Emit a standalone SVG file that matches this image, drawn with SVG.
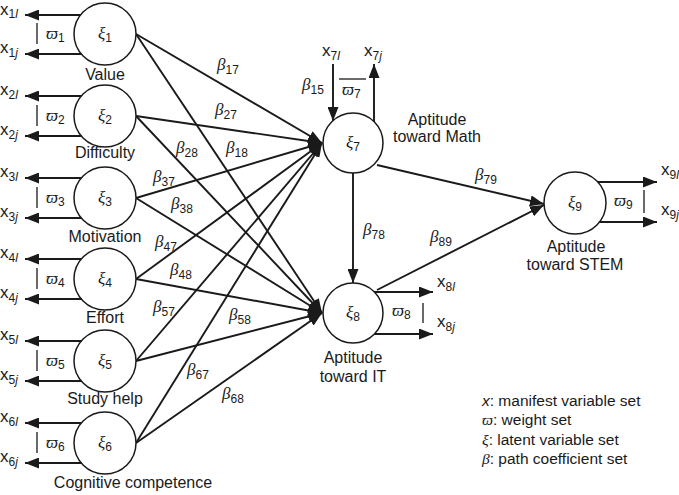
<svg xmlns="http://www.w3.org/2000/svg" width="679" height="495" viewBox="0 0 679 495">
<defs>
<marker id="ah" viewBox="0 0 14 11" refX="14" refY="5.5" markerWidth="14" markerHeight="11" markerUnits="userSpaceOnUse" orient="auto"><path d="M0,0 L14,5.5 L0,11 z" fill="#1a1a1a"/></marker>
<style>
.ln{stroke:#1a1a1a;stroke-width:1.9;fill:none}
.tk{stroke:#1a1a1a;stroke-width:1.3;fill:none}
.arr{marker-end:url(#ah)}
.nd{fill:#fff;stroke:#1a1a1a;stroke-width:1.5}
text{fill:#1a1a1a}
.lb{font-family:"Liberation Sans",Arial,sans-serif;font-size:16px}
.xl{font-family:"Liberation Sans",Arial,sans-serif;font-size:17px}
.lg{font-family:"Liberation Sans",Arial,sans-serif;font-size:15.5px}
.gk{font-family:"Liberation Serif","DejaVu Serif",serif;font-style:italic;font-size:17px}
.sub{font-family:"Liberation Sans",Arial,sans-serif;font-size:12px;font-style:normal}
.it{font-style:italic}
</style>
</defs>
<g id="connectors">
<line class="ln arr" x1="100" y1="15" x2="25" y2="15"/><line class="ln arr" x1="100" y1="54" x2="25" y2="54"/><line class="tk" x1="37" y1="23" x2="37" y2="44"/>
<line class="ln arr" x1="100" y1="96" x2="25" y2="96"/><line class="ln arr" x1="100" y1="136" x2="25" y2="136"/><line class="tk" x1="37" y1="105" x2="37" y2="126"/>
<line class="ln arr" x1="100" y1="178" x2="25" y2="178"/><line class="ln arr" x1="100" y1="218" x2="25" y2="218"/><line class="tk" x1="37" y1="187" x2="37" y2="208"/>
<line class="ln arr" x1="100" y1="259" x2="25" y2="259"/><line class="ln arr" x1="100" y1="299" x2="25" y2="299"/><line class="tk" x1="37" y1="268" x2="37" y2="289"/>
<line class="ln arr" x1="100" y1="341" x2="25" y2="341"/><line class="ln arr" x1="100" y1="381" x2="25" y2="381"/><line class="tk" x1="37" y1="350" x2="37" y2="371"/>
<line class="ln arr" x1="100" y1="423" x2="25" y2="423"/><line class="ln arr" x1="100" y1="463" x2="25" y2="463"/><line class="tk" x1="37" y1="432" x2="37" y2="453"/>
<line class="ln arr" x1="136" y1="34" x2="322" y2="143"/>
<line class="ln arr" x1="136" y1="116" x2="322" y2="143"/>
<line class="ln arr" x1="136" y1="198" x2="322" y2="143"/>
<line class="ln arr" x1="136" y1="279" x2="322" y2="143"/>
<line class="ln arr" x1="136" y1="361" x2="322" y2="143"/>
<line class="ln arr" x1="136" y1="443" x2="322" y2="143"/>
<line class="ln arr" x1="136" y1="34" x2="322" y2="313"/>
<line class="ln arr" x1="136" y1="116" x2="322" y2="313"/>
<line class="ln arr" x1="136" y1="198" x2="322" y2="313"/>
<line class="ln arr" x1="136" y1="279" x2="322" y2="313"/>
<line class="ln arr" x1="136" y1="361" x2="322" y2="313"/>
<line class="ln arr" x1="136" y1="443" x2="322" y2="313"/>
<line class="ln arr" x1="333" y1="64" x2="333" y2="121"/>
<line class="ln arr" x1="374" y1="125" x2="374" y2="64"/>
<line class="tk" x1="339" y1="79" x2="366" y2="79"/>
<line class="ln arr" x1="353" y1="165" x2="353" y2="283"/>
<line class="ln arr" x1="377" y1="165" x2="544" y2="204"/>
<line class="ln arr" x1="377" y1="290" x2="544" y2="205"/>
<line class="ln arr" x1="370" y1="292" x2="433" y2="292"/>
<line class="ln arr" x1="370" y1="334" x2="433" y2="334"/>
<line class="tk" x1="423" y1="303" x2="423" y2="323"/>
<line class="ln arr" x1="590" y1="182" x2="657" y2="182"/>
<line class="ln arr" x1="590" y1="222" x2="657" y2="222"/>
<line class="tk" x1="644" y1="190" x2="644" y2="213"/>
<g class="gk">
<text x="217" y="70">β<tspan class="sub" dy="4">17</tspan></text>
<text x="215" y="115">β<tspan class="sub" dy="4">27</tspan></text>
<text x="176" y="153">β<tspan class="sub" dy="4">28</tspan></text>
<text x="226" y="153">β<tspan class="sub" dy="4">18</tspan></text>
<text x="153" y="182">β<tspan class="sub" dy="4">37</tspan></text>
<text x="171" y="209">β<tspan class="sub" dy="4">38</tspan></text>
<text x="155" y="247">β<tspan class="sub" dy="4">47</tspan></text>
<text x="170" y="275">β<tspan class="sub" dy="4">48</tspan></text>
<text x="153" y="312">β<tspan class="sub" dy="4">57</tspan></text>
<text x="229" y="320">β<tspan class="sub" dy="4">58</tspan></text>
<text x="187" y="375">β<tspan class="sub" dy="4">67</tspan></text>
<text x="222" y="399">β<tspan class="sub" dy="4">68</tspan></text>
<text x="302" y="90">β<tspan class="sub" dy="4">15</tspan></text>
<text x="363" y="235">β<tspan class="sub" dy="4">78</tspan></text>
<text x="430" y="242">β<tspan class="sub" dy="4">89</tspan></text>
<text x="475" y="180">β<tspan class="sub" dy="4">79</tspan></text>
</g>
</g>
<g id="n1">
<circle class="nd" cx="105" cy="34" r="31"/>
<text class="gk" x="105" y="39" text-anchor="middle">ξ<tspan class="sub" dy="3">1</tspan></text>
<text class="gk" x="46" y="39">ϖ<tspan class="sub" dy="3">1</tspan></text>
<text class="xl" x="0" y="15">x<tspan class="sub" dy="3">1<tspan class="it">l</tspan></tspan></text>
<text class="xl" x="0" y="53">x<tspan class="sub" dy="4">1<tspan class="it">j</tspan></tspan></text>
<text class="lb" x="105" y="80" text-anchor="middle">Value</text>
</g>
<g id="n2">
<circle class="nd" cx="105" cy="116" r="31"/>
<text class="gk" x="105" y="121" text-anchor="middle">ξ<tspan class="sub" dy="3">2</tspan></text>
<text class="gk" x="46" y="121">ϖ<tspan class="sub" dy="3">2</tspan></text>
<text class="xl" x="0" y="95">x<tspan class="sub" dy="4">2<tspan class="it">l</tspan></tspan></text>
<text class="xl" x="0" y="135">x<tspan class="sub" dy="4">2<tspan class="it">j</tspan></tspan></text>
<text class="lb" x="105" y="158" text-anchor="middle">Difficulty</text>
</g>
<g id="n3">
<circle class="nd" cx="105" cy="198" r="31"/>
<text class="gk" x="105" y="203" text-anchor="middle">ξ<tspan class="sub" dy="3">3</tspan></text>
<text class="gk" x="46" y="203">ϖ<tspan class="sub" dy="3">3</tspan></text>
<text class="xl" x="0" y="177">x<tspan class="sub" dy="4">3<tspan class="it">l</tspan></tspan></text>
<text class="xl" x="0" y="217">x<tspan class="sub" dy="4">3<tspan class="it">j</tspan></tspan></text>
<text class="lb" x="105" y="242" text-anchor="middle">Motivation</text>
</g>
<g id="n4">
<circle class="nd" cx="105" cy="279" r="31"/>
<text class="gk" x="105" y="284" text-anchor="middle">ξ<tspan class="sub" dy="3">4</tspan></text>
<text class="gk" x="46" y="284">ϖ<tspan class="sub" dy="3">4</tspan></text>
<text class="xl" x="0" y="258">x<tspan class="sub" dy="4">4<tspan class="it">l</tspan></tspan></text>
<text class="xl" x="0" y="298">x<tspan class="sub" dy="4">4<tspan class="it">j</tspan></tspan></text>
<text class="lb" x="105" y="323" text-anchor="middle">Effort</text>
</g>
<g id="n5">
<circle class="nd" cx="105" cy="361" r="31"/>
<text class="gk" x="105" y="366" text-anchor="middle">ξ<tspan class="sub" dy="3">5</tspan></text>
<text class="gk" x="46" y="366">ϖ<tspan class="sub" dy="3">5</tspan></text>
<text class="xl" x="0" y="340">x<tspan class="sub" dy="4">5<tspan class="it">l</tspan></tspan></text>
<text class="xl" x="0" y="380">x<tspan class="sub" dy="4">5<tspan class="it">j</tspan></tspan></text>
<text class="lb" x="105" y="404" text-anchor="middle">Study help</text>
</g>
<g id="n6">
<circle class="nd" cx="105" cy="443" r="31"/>
<text class="gk" x="105" y="448" text-anchor="middle">ξ<tspan class="sub" dy="3">6</tspan></text>
<text class="gk" x="46" y="448">ϖ<tspan class="sub" dy="3">6</tspan></text>
<text class="xl" x="0" y="422">x<tspan class="sub" dy="4">6<tspan class="it">l</tspan></tspan></text>
<text class="xl" x="0" y="462">x<tspan class="sub" dy="4">6<tspan class="it">j</tspan></tspan></text>
<text class="lb" x="133" y="488" text-anchor="middle">Cognitive competence</text>
</g>
<g id="n7">
<circle class="nd" cx="353" cy="143" r="30"/>
<text class="gk" x="353" y="148" text-anchor="middle">ξ<tspan class="sub" dy="3">7</tspan></text>
<text class="gk" x="342" y="95">ϖ<tspan class="sub" dy="3">7</tspan></text>
<text class="xl" x="322" y="56">x<tspan class="sub" dy="4">7<tspan class="it">l</tspan></tspan></text>
<text class="xl" x="364" y="56">x<tspan class="sub" dy="4">7<tspan class="it">j</tspan></tspan></text>
<text class="lb" x="437" y="125" text-anchor="middle">Aptitude</text>
<text class="lb" x="437" y="142" text-anchor="middle">toward Math</text>
</g>
<g id="n8">
<circle class="nd" cx="353" cy="313" r="30"/>
<text class="gk" x="353" y="318" text-anchor="middle">ξ<tspan class="sub" dy="3">8</tspan></text>
<text class="gk" x="392" y="316">ϖ<tspan class="sub" dy="3">8</tspan></text>
<text class="xl" x="437" y="287">x<tspan class="sub" dy="4">8<tspan class="it">l</tspan></tspan></text>
<text class="xl" x="437" y="327">x<tspan class="sub" dy="4">8<tspan class="it">j</tspan></tspan></text>
<text class="lb" x="353" y="363" text-anchor="middle">Aptitude</text>
<text class="lb" x="353" y="382" text-anchor="middle">toward IT</text>
</g>
<g id="n9">
<circle class="nd" cx="575" cy="203" r="31"/>
<text class="gk" x="575" y="208" text-anchor="middle">ξ<tspan class="sub" dy="3">9</tspan></text>
<text class="gk" x="614" y="206">ϖ<tspan class="sub" dy="3">9</tspan></text>
<text class="xl" x="661" y="175">x<tspan class="sub" dy="4">9<tspan class="it">l</tspan></tspan></text>
<text class="xl" x="661" y="215">x<tspan class="sub" dy="4">9<tspan class="it">j</tspan></tspan></text>
<text class="lb" x="576" y="252" text-anchor="middle">Aptitude</text>
<text class="lb" x="575" y="270" text-anchor="middle">toward STEM</text>
</g>
<g id="legend" class="lg">
<text x="482" y="406"><tspan class="it">x</tspan>: manifest variable set</text>
<text x="482" y="425"><tspan font-family="Liberation Serif,DejaVu Serif,serif" font-style="italic">ϖ</tspan>: weight set</text>
<text x="482" y="445"><tspan font-family="Liberation Serif,DejaVu Serif,serif" font-style="italic">ξ</tspan>: latent variable set</text>
<text x="482" y="464"><tspan font-family="Liberation Serif,DejaVu Serif,serif" font-style="italic">β</tspan>: path coefficient set</text>
</g>
</svg>
